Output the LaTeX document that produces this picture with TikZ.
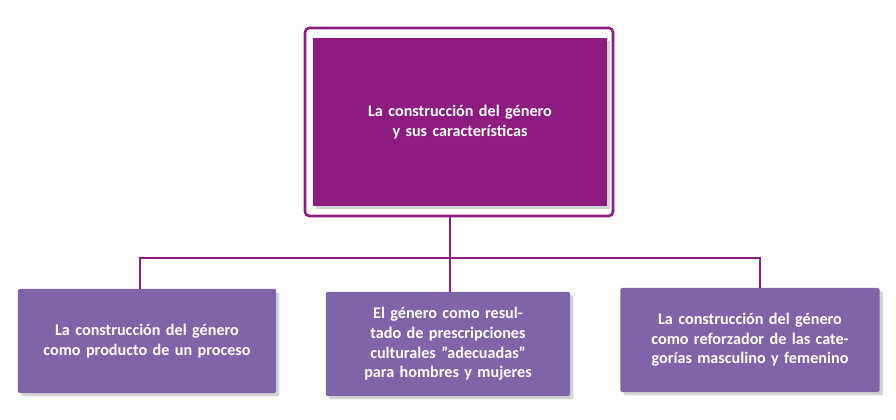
\documentclass[tikz,border=0pt]{standalone}
\usepackage{fontspec}
\setmainfont{Carlito}
\usetikzlibrary{positioning,shadows}
\definecolor{topfill}{HTML}{8E1B7F}
\definecolor{subfill}{HTML}{8064A9}
\tikzset{
  topbox/.style={rectangle, fill=topfill, text=white, draw=none, minimum width=7.35cm, minimum height=4.2cm,
    text width=5.2cm, align=center, font=\fontsize{11.5}{14}\selectfont\bfseries, drop shadow={opacity=0.35}},
  subbox/.style={rectangle, rounded corners=1pt, fill=subfill, text=white, draw=none, minimum height=2.6cm,
    align=center, font=\fontsize{11.5}{14}\selectfont\bfseries, drop shadow={opacity=0.35}},
  link/.style={draw=topfill, line width=1.5pt}
}
\begin{document}
\begin{tikzpicture}[x=0.025cm,y=-0.025cm]
\useasboundingbox (0,0) rectangle (896,420);

%top box and frame
\node[topbox] (top) at (460,122) {La construcción del género y sus características};
\draw[draw=topfill, line width=1.8pt, rounded corners=3pt] (305,28) rectangle (613,216);
\coordinate (frame) at (460,216);

%lower boxes
\node[subbox, minimum width=6.45cm, text width=5.6cm] (b1) at (147,341) {La construcción del género como producto de un proceso};
\node[subbox, minimum width=6.1cm, text width=5.4cm] (b2) at (448,344) {El género como resultado de prescripciones culturales "adecuadas" para hombres y mujeres};
\node[subbox, minimum width=6.48cm, text width=5.6cm] (b3) at (750,340) {La construcción del género como reforzador de las categorías masculino y femenino};

%connectors
\coordinate (j) at (450,258);
\draw[link] (450,216) -- (j);
\draw[link] (j) -| (b1.north -| 140,0);
\draw[link] (j) -- (b2.north -| 450,0);
\draw[link] (j) -| (b3.north -| 760,0);
\end{tikzpicture}
\end{document}
